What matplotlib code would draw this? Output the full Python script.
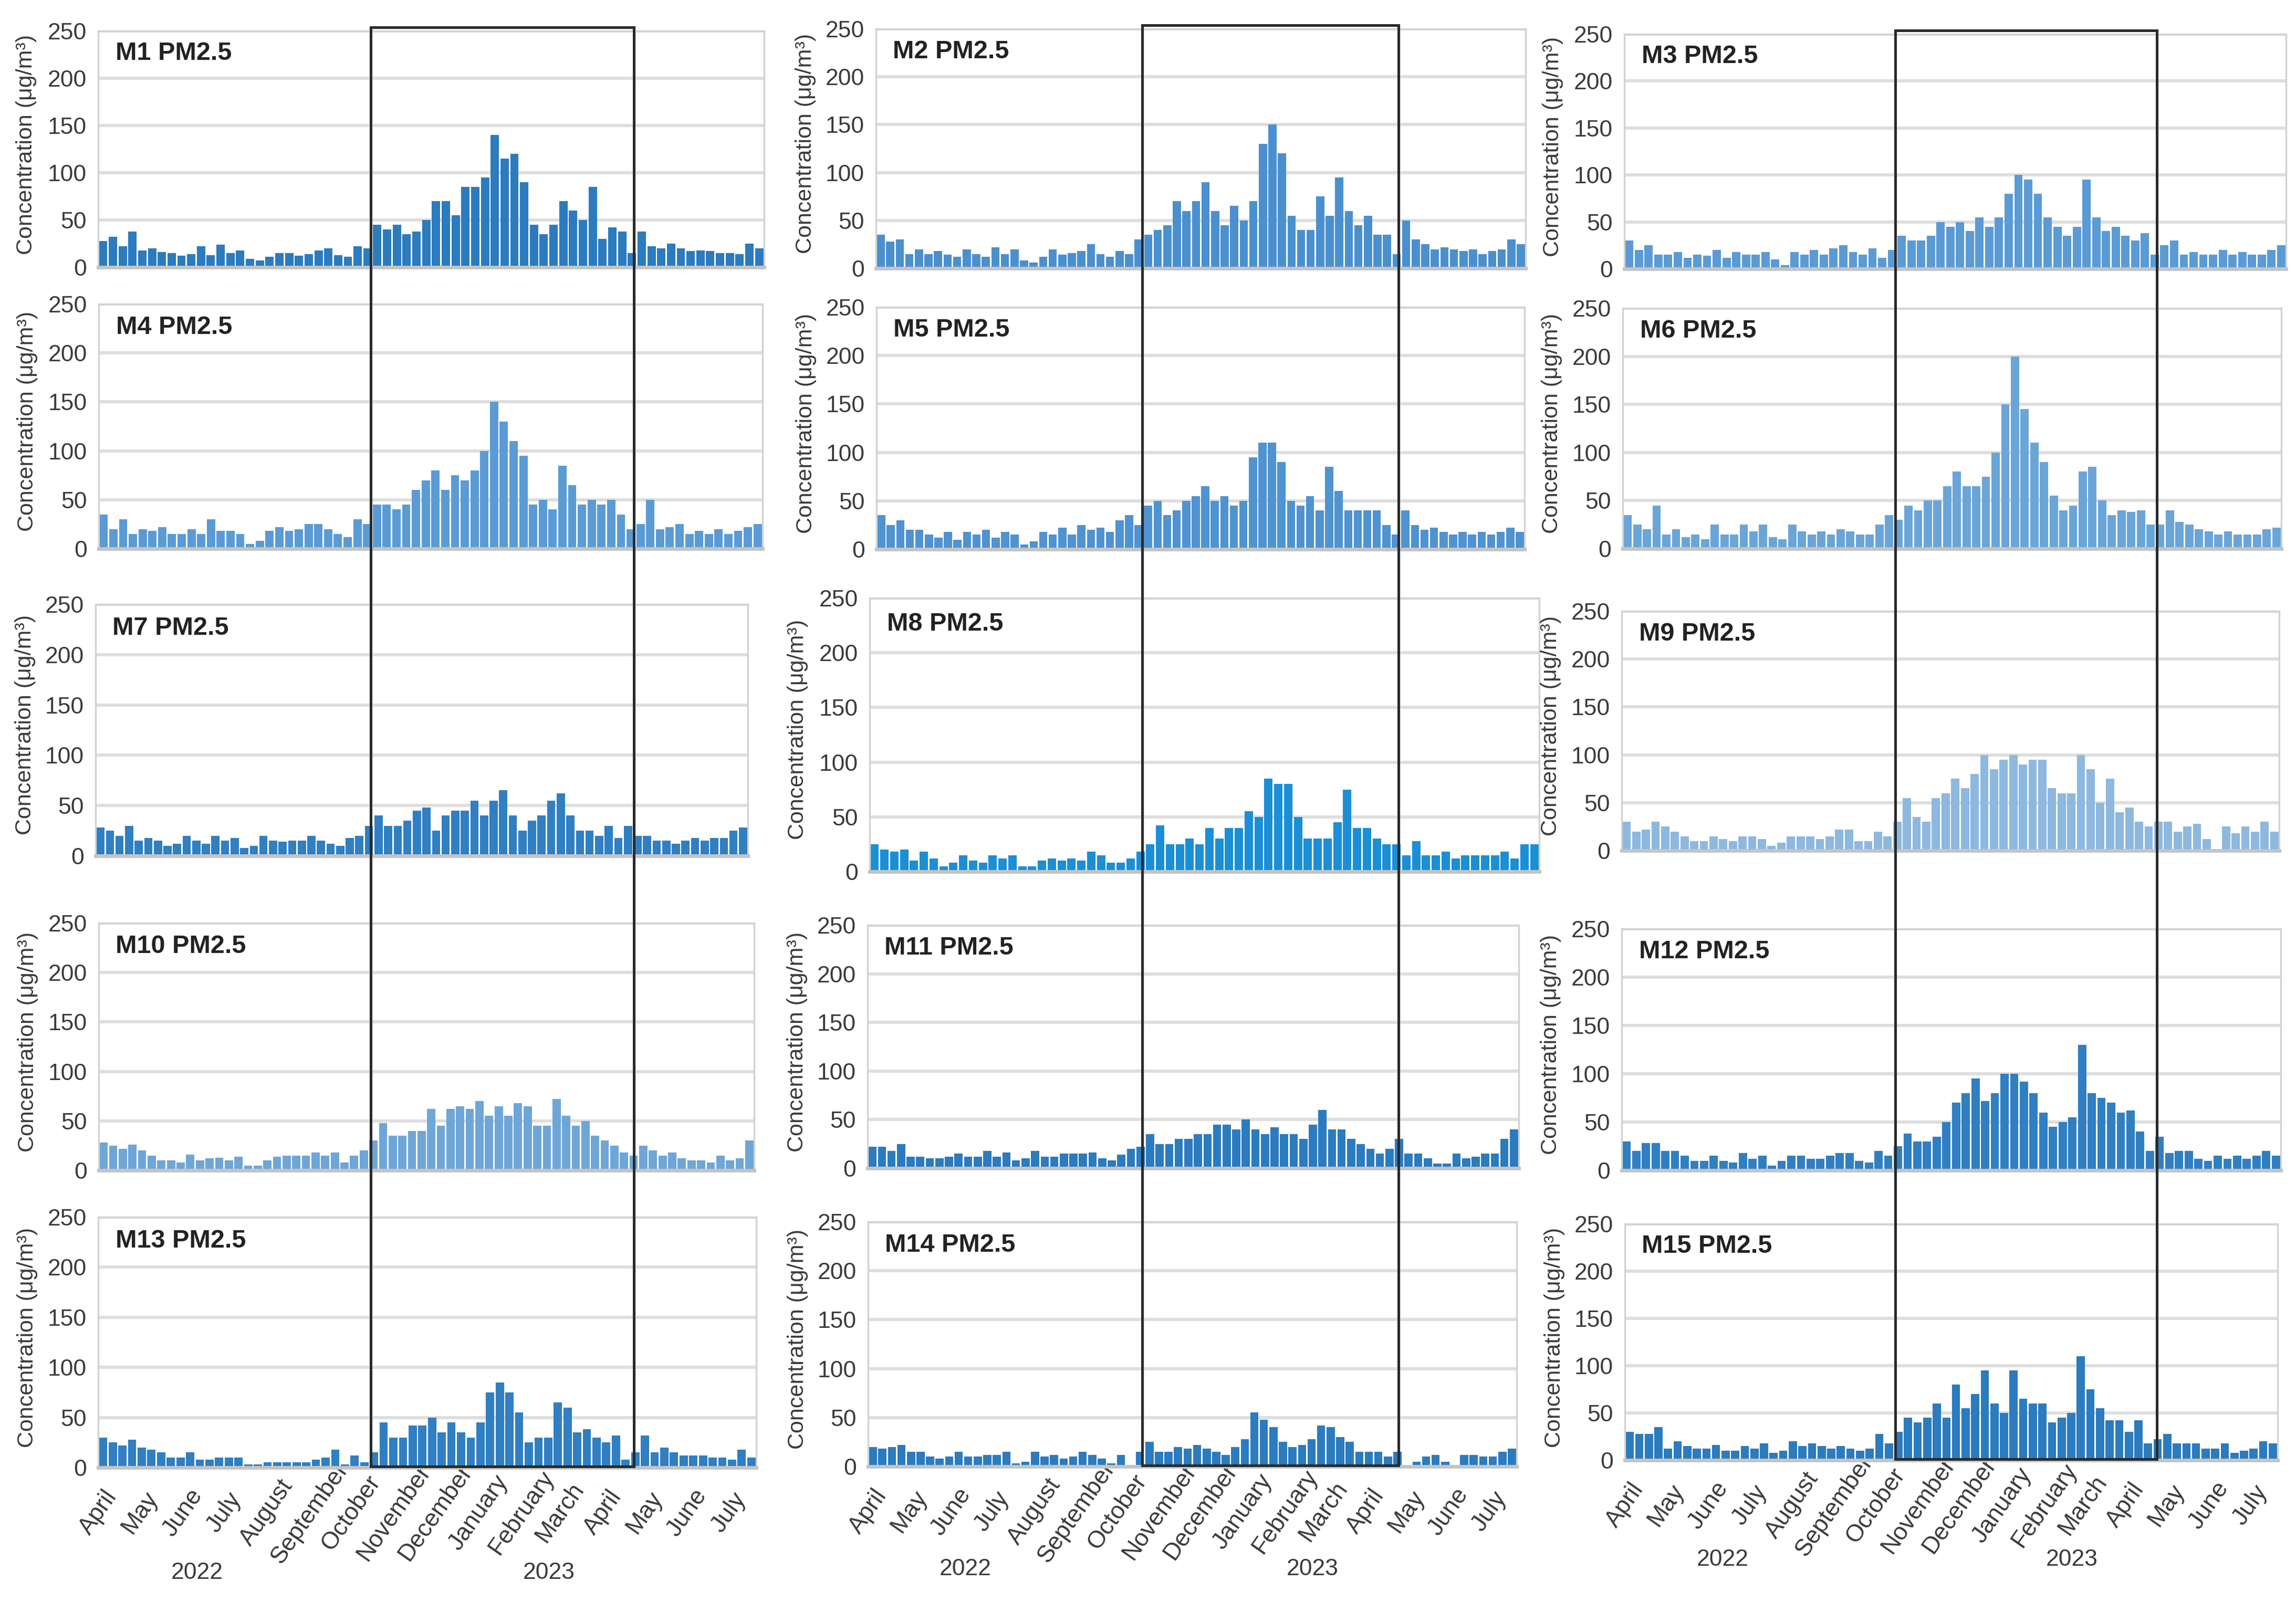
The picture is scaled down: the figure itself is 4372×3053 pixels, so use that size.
import matplotlib
matplotlib.use("Agg")
import matplotlib.pyplot as plt
import matplotlib.dates as mdates
from matplotlib.patches import Rectangle
import datetime as dt

plt.rcParams['font.family'] = ['Liberation Sans', 'DejaVu Sans']

# ============ data: weekly PM2.5 (ug/m3), week 0 starts 2022-04-01 ============
M1 = [28, 32, 22, 38, 18, 20, 16, 15, 12, 14, 22, 13, 24, 15, 18, 9, 7, 11, 15, 15, 12, 14,
      18, 20, 13, 11, 22, 20, 45, 40, 45, 35, 38, 50, 70, 70, 55, 85, 85, 95, 140, 115, 120, 90,
      45, 35, 45, 70, 60, 50, 85, 30, 42, 38, 15, 38, 22, 20, 25, 20, 17, 18, 17, 15, 15, 14, 25, 20]
M2 = [35, 28, 30, 15, 20, 15, 18, 14, 12, 20, 15, 12, 22, 15, 20, 8, 6, 12, 20, 14, 16, 18,
      25, 15, 12, 18, 15, 30, 35, 40, 45, 70, 60, 70, 90, 60, 45, 65, 50, 70, 130, 150, 120, 55,
      40, 40, 75, 55, 95, 60, 45, 55, 35, 35, 15, 50, 30, 25, 20, 22, 20, 18, 20, 15, 18, 20, 30, 25]
M3 = [30, 20, 25, 15, 15, 18, 12, 15, 14, 20, 12, 18, 15, 15, 18, 10, 4, 18, 15, 20, 15, 22,
      25, 18, 15, 22, 12, 20, 35, 30, 30, 35, 50, 45, 50, 40, 55, 45, 55, 80, 100, 95, 80, 55,
      45, 35, 45, 95, 55, 40, 45, 35, 30, 38, 15, 25, 30, 15, 18, 15, 15, 20, 15, 18, 15, 15, 20, 25]
M4 = [35, 20, 30, 15, 20, 18, 22, 15, 15, 20, 15, 30, 18, 18, 15, 5, 8, 18, 22, 18, 20, 25,
      25, 20, 15, 12, 30, 25, 45, 45, 40, 45, 60, 70, 80, 60, 75, 70, 80, 100, 150, 130, 110, 95,
      45, 50, 40, 85, 65, 45, 50, 45, 50, 35, 20, 25, 50, 20, 22, 25, 15, 18, 15, 20, 15, 18, 22, 25]
M5 = [35, 25, 30, 20, 20, 15, 12, 18, 10, 18, 15, 20, 12, 18, 15, 5, 8, 18, 15, 22, 15, 25,
      20, 22, 18, 30, 35, 25, 45, 50, 35, 40, 50, 55, 65, 50, 55, 45, 50, 95, 110, 110, 90, 50,
      45, 55, 40, 85, 60, 40, 40, 40, 40, 25, 15, 40, 25, 20, 22, 18, 15, 18, 15, 18, 15, 18, 22, 18]
M6 = [35, 25, 20, 45, 15, 20, 12, 15, 10, 25, 15, 15, 25, 18, 25, 12, 10, 25, 18, 15, 18, 15,
      20, 18, 15, 15, 25, 35, 30, 45, 40, 50, 50, 65, 80, 65, 65, 75, 100, 150, 200, 145, 110, 90,
      55, 40, 45, 80, 85, 50, 35, 40, 38, 40, 25, 25, 40, 28, 25, 20, 18, 15, 18, 15, 15, 15, 20, 22]
M7 = [28, 25, 20, 30, 15, 18, 15, 10, 12, 20, 15, 12, 20, 15, 18, 8, 10, 20, 15, 14, 15, 15,
      20, 15, 12, 10, 18, 20, 30, 40, 30, 30, 35, 45, 48, 25, 40, 45, 45, 55, 40, 55, 65, 40,
      25, 35, 40, 55, 62, 40, 25, 25, 20, 30, 18, 30, 20, 20, 15, 15, 12, 15, 18, 15, 18, 18, 25, 28]
M8 = [25, 20, 18, 20, 10, 18, 12, 5, 8, 15, 10, 8, 15, 12, 15, 5, 5, 10, 12, 10, 12, 10,
      18, 15, 8, 8, 12, 18, 25, 42, 25, 25, 30, 25, 40, 30, 40, 40, 55, 50, 85, 80, 80, 50,
      30, 30, 30, 45, 75, 40, 40, 30, 25, 25, 15, 28, 15, 15, 18, 12, 15, 15, 15, 15, 18, 12, 25, 25]
M9 = [30, 20, 22, 30, 25, 20, 15, 10, 10, 15, 12, 10, 15, 15, 12, 5, 8, 15, 15, 15, 12, 15,
      22, 22, 10, 10, 20, 15, 30, 55, 35, 30, 55, 60, 75, 65, 80, 100, 85, 95, 100, 90, 95, 95,
      65, 60, 60, 100, 85, 50, 75, 40, 45, 30, 25, 30, 30, 20, 25, 28, 12, 0, 25, 18, 25, 20, 30, 20]
M10 = [28, 25, 22, 26, 20, 15, 10, 10, 8, 16, 10, 12, 13, 10, 14, 5, 5, 10, 14, 15, 15, 15,
       18, 15, 18, 8, 15, 20, 30, 48, 35, 35, 40, 40, 62, 45, 62, 65, 62, 70, 55, 65, 55, 68,
       65, 45, 45, 72, 55, 45, 50, 35, 30, 25, 18, 15, 25, 20, 15, 18, 12, 10, 10, 8, 15, 10, 12, 30]
M11 = [22, 22, 18, 25, 12, 12, 10, 10, 12, 15, 12, 12, 18, 12, 16, 8, 10, 18, 12, 12, 15, 15,
       15, 16, 10, 8, 14, 20, 22, 35, 25, 25, 30, 30, 35, 35, 45, 45, 40, 50, 40, 35, 42, 35,
       35, 30, 45, 60, 40, 40, 30, 25, 20, 15, 20, 30, 15, 15, 10, 5, 5, 15, 10, 12, 15, 15, 30, 40]
M12 = [30, 20, 28, 28, 20, 20, 15, 10, 10, 15, 10, 8, 18, 12, 15, 5, 10, 15, 15, 12, 12, 15,
       18, 18, 10, 8, 20, 15, 25, 38, 30, 30, 35, 50, 70, 80, 95, 72, 80, 100, 100, 92, 80, 60,
       45, 50, 55, 130, 80, 75, 70, 60, 62, 40, 20, 35, 18, 20, 20, 12, 10, 15, 12, 15, 12, 15, 20, 15]
M13 = [30, 25, 22, 28, 20, 18, 15, 10, 10, 15, 8, 8, 10, 10, 10, 3, 3, 5, 5, 5, 5, 5,
       8, 10, 18, 3, 12, 5, 15, 45, 30, 30, 42, 42, 50, 35, 45, 35, 30, 45, 75, 85, 75, 55,
       25, 30, 30, 65, 60, 35, 38, 30, 25, 32, 8, 15, 32, 15, 20, 15, 12, 12, 12, 10, 10, 8, 18, 10]
M14 = [20, 18, 20, 22, 15, 15, 10, 8, 10, 15, 10, 10, 12, 12, 15, 3, 5, 15, 10, 12, 8, 10,
       15, 12, 8, 3, 12, 0, 15, 25, 15, 15, 20, 18, 22, 18, 15, 12, 20, 28, 55, 48, 40, 25,
       20, 22, 28, 42, 40, 30, 25, 15, 15, 15, 10, 15, 0, 5, 10, 12, 5, 0, 12, 12, 10, 10, 15, 18]
M15 = [30, 28, 28, 35, 12, 20, 15, 12, 12, 16, 10, 10, 15, 12, 18, 8, 10, 20, 15, 18, 15, 12,
       15, 12, 10, 12, 28, 18, 30, 45, 40, 45, 60, 45, 80, 55, 70, 95, 60, 50, 95, 65, 60, 60,
       40, 45, 50, 110, 75, 55, 42, 42, 30, 42, 18, 22, 28, 18, 18, 18, 12, 12, 18, 8, 10, 12, 20, 18]

SERIES = [M1, M2, M3, M4, M5, M6, M7, M8, M9, M10, M11, M12, M13, M14, M15]
SITES = ['M%d' % (i + 1) for i in range(15)]
COLORS = ['#2b7bbf', '#4a90cf', '#5a9bd5', '#5a9bd5', '#4f93d0', '#6aa5d8', '#2f7fc2', '#1a8fd6',
          '#8db8df', '#6ea6d8', '#2b7bbf', '#2f7fc2', '#2f7fc2', '#2b7bbf', '#2b7bbf']

MONTHS = ['April', 'May', 'June', 'July', 'August', 'September', 'October', 'November',
          'December', 'January', 'February', 'March', 'April', 'May', 'June', 'July']
MONTH_STARTS = [dt.date(2022, m, 1) for m in range(4, 13)] + [dt.date(2023, m, 1) for m in range(1, 8)]
YEARS = ['2022', '2023']
YTICKS = [0, 50, 100, 150, 200, 250]

START = dt.date(2022, 4, 1)
END = dt.date(2023, 7, 21)
BOX_START = dt.date(2022, 10, 13)
BOX_END = dt.date(2023, 4, 19)

# ============ layout (pixel boxes of the pasted panels: left, top, right, bottom) ============
W, H = 4372, 3053
PANEL_PX = [
    (187, 59, 1455, 509), (1668, 55, 2905, 511), (3093, 65, 4353, 512),
    (188, 579, 1452, 1045), (1669, 585, 2903, 1046), (3090, 587, 4344, 1045),
    (182, 1151, 1424, 1630), (1656, 1139, 2931, 1660), (3088, 1164, 4340, 1620),
    (188, 1758, 1436, 2229), (1652, 1762, 2892, 2225), (3088, 1769, 4343, 2229),
    (187, 2318, 1440, 2795), (1653, 2327, 2888, 2793), (3094, 2331, 4337, 2781),
]

fig = plt.figure(figsize=(W / 200, H / 200), dpi=200)
start_num = mdates.date2num(START)
axes = []

for i, vals in enumerate(SERIES):
    x0, y0, x1, y1 = PANEL_PX[i]
    ax = fig.add_axes([x0 / W, 1 - y1 / H, (x1 - x0) / W, (y1 - y0) / H])
    axes.append(ax)
    xs = [start_num + 7 * k + 3.5 for k in range(len(vals))]
    ax.bar(xs, vals, width=6.0, color=COLORS[i], linewidth=0, zorder=2)

    ax.set_xlim(start_num, mdates.date2num(END))
    ax.set_ylim(0, 250)
    ax.set_yticks(YTICKS)
    ax.set_axisbelow(True)
    ax.yaxis.grid(True, color='#dedede', lw=2.2)
    ax.tick_params(axis='y', length=0, pad=8, labelsize=16, labelcolor='#3a3a3a')
    for s in ax.spines.values():
        s.set_color('#d2d2d2')
        s.set_linewidth(1.2)
    ax.spines['bottom'].set_color('#c4c4c4')
    ax.spines['bottom'].set_linewidth(2.5)

    ax.set_ylabel('Concentration (μg/m³)', fontsize=15.5, color='#3a3a3a')
    ax.yaxis.set_label_coords(-0.092, 0.52)
    ax.text(0.026, 0.905, SITES[i] + ' PM2.5', transform=ax.transAxes, fontsize=17.5,
            fontweight='bold', color='#222222', va='center', ha='left')

    if i >= 12:
        ax.set_xticks([mdates.date2num(d) for d in MONTH_STARTS])
        ax.set_xticklabels(MONTHS)
        ax.tick_params(axis='x', length=0, pad=31, labelsize=16.5, labelcolor='#3a3a3a')
        for lab in ax.get_xticklabels():
            lab.set_rotation(55)
            lab.set_ha('center')
            lab.set_va('center')
            lab.set_rotation_mode('anchor')
        ax.text(0.15, -0.42, YEARS[0], transform=ax.transAxes, fontsize=16,
                color='#3a3a3a', ha='center', va='center')
        ax.text(0.685, -0.42, YEARS[1], transform=ax.transAxes, fontsize=16,
                color='#3a3a3a', ha='center', va='center')
    else:
        ax.set_xticks([])

# ============ heating-season boxes, one per column ============
inv = fig.transFigure.inverted()
for c in range(3):
    top_ax = axes[c]
    bot_ax = axes[12 + c]
    xa = inv.transform(top_ax.transData.transform((mdates.date2num(BOX_START), 0)))[0]
    xb = inv.transform(top_ax.transData.transform((mdates.date2num(BOX_END), 0)))[0]
    ytop = top_ax.get_position().y1 + 7 / H
    ybot = bot_ax.get_position().y0 + 2 / H
    rect = Rectangle((xa, ybot), xb - xa, ytop - ybot, transform=fig.transFigure,
                     fill=False, edgecolor='#2a2a2a', linewidth=1.8, zorder=10, clip_on=False)
    fig.add_artist(rect)

fig.savefig('out.png', dpi=200, facecolor='white')
